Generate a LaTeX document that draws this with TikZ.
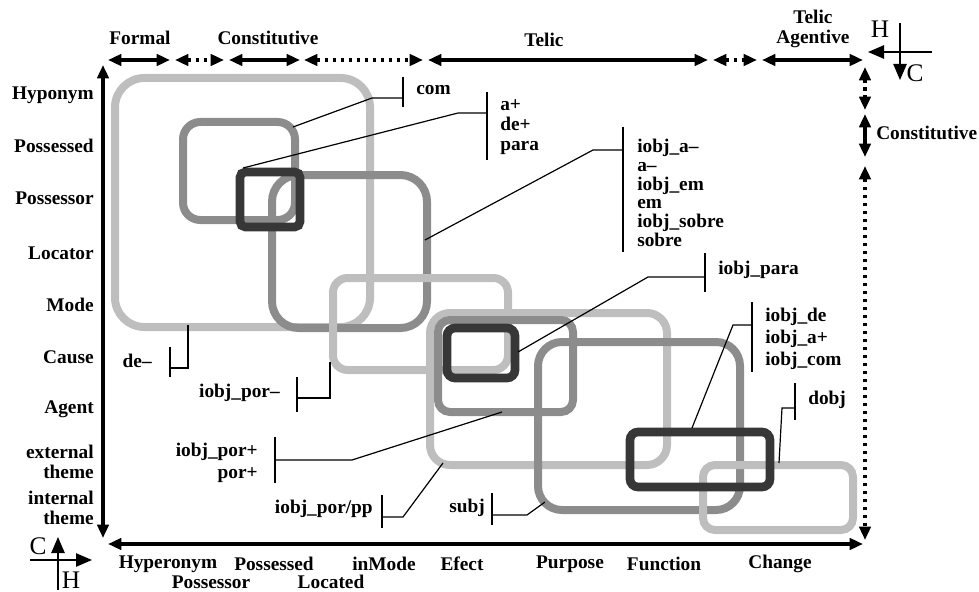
\documentclass[tikz,border=0pt]{standalone}
\usepackage{fontspec}
\setmainfont{Liberation Serif}
\definecolor{boxlight}{RGB}{190,190,190}
\definecolor{boxmid}{RGB}{140,140,140}
\definecolor{boxdark}{RGB}{55,55,55}
\usetikzlibrary{arrows.meta}

\begin{document}
\begin{tikzpicture}[x=0.75pt, y=-0.75pt,
  axis/.style={line width=3pt, {Triangle[length=10pt,width=8.5pt]}-{Triangle[length=10pt,width=8.5pt]}},
  dotaxis/.style={axis, dash pattern=on 2.5pt off 3.5pt},
  lightbox/.style={draw=boxlight, line width=6pt},
  midbox/.style={draw=boxmid, line width=6pt},
  darkbox/.style={draw=boxdark, line width=6.5pt},
  callout/.style={line width=0.9pt},
  cross/.style={line width=1.1pt, -{Triangle[length=12pt,width=10pt]}},
  lbl/.style={font=\fontsize{14.5}{16.5}\selectfont\bfseries, inner sep=0pt, align=left},
  letter/.style={font=\fontsize{19}{19}\selectfont, inner sep=0pt}
]
  \useasboundingbox (0,0) rectangle (979,592);

  % rounded boxes
  \draw[lightbox, rounded corners=22pt] (115,78) rectangle (370,327);
  \draw[midbox, rounded corners=13pt] (183,122) rectangle (295,220);
  \draw[midbox, rounded corners=20pt] (272,175) rectangle (427,328);
  \draw[lightbox, rounded corners=11pt] (333,278) rectangle (508,370);
  \draw[darkbox, rounded corners=4pt] (240,172) rectangle (300,227);
  \draw[lightbox, rounded corners=15pt] (430,313) rectangle (667,465);
  \draw[midbox, rounded corners=9pt] (438,320) rectangle (573,412);
  \draw[midbox, rounded corners=18pt] (538,342) rectangle (740,510);
  \draw[darkbox, rounded corners=6pt] (447,328) rectangle (515,378);
  \draw[lightbox, rounded corners=9pt] (703,465) rectangle (853,530);
  \draw[darkbox, rounded corners=6pt] (630,432) rectangle (770,487);

  % axes
  \draw[axis] (108,60) -- (170,60);
  \draw[dotaxis] (175,60) -- (224,60);
  \draw[axis] (229,60) -- (300,60);
  \draw[dotaxis] (304,60) -- (423,60);
  \draw[axis] (428,60) -- (708,60);
  \draw[dotaxis] (713,60) -- (757,60);
  \draw[axis] (762,60) -- (863,60);
  \draw[dotaxis] (865,67) -- (865,110);
  \draw[axis] (865,114) -- (865,157);
  \draw[dotaxis] (865,166) -- (865,540);
  \draw[axis] (103,65) -- (103,538);
  \draw[axis] (108,544) -- (863,544);

  % corner crosses
  \draw[cross] (932,52) -- (868,52);
  \draw[cross] (900,23) -- (900,80);
  \node[letter] (hTop) at (880,29) {H};
  \node[letter] (cTop) at (915,73) {C};
  \draw[cross] (58,590) -- (58,537);
  \draw[cross] (30,560) -- (92,560);
  \node[letter] (cBot) at (38,546) {C};
  \node[letter] (hBot) at (71,580) {H};

  % top and right labels
  \node[lbl] (tFormal) at (140,38) {Formal};
  \node[lbl] (tConst) at (268,38) {Constitutive};
  \node[lbl] (tTelic) at (544,40) {Telic};
  \node[lbl, align=center, font=\fontsize{14.5}{15}\selectfont\bfseries] (tAgent) at (813,29) {Telic\\Agentive};
  \node[lbl, anchor=west] (rConst) at (876,133) {Constitutive};

  % left labels
  \node[lbl, anchor=east] (lHypo) at (94,95) {Hyponym};
  \node[lbl, anchor=east] (lPossd) at (94,146) {Possessed};
  \node[lbl, anchor=east] (lPossr) at (94,198) {Possessor};
  \node[lbl, anchor=east] (lLoc) at (94,253) {Locator};
  \node[lbl, anchor=east] (lMode) at (94,305) {Mode};
  \node[lbl, anchor=east] (lCause) at (94,357) {Cause};
  \node[lbl, anchor=east] (lAgent) at (94,409) {Agent};
  \node[lbl, anchor=east, align=right, font=\fontsize{14.5}{15}\selectfont\bfseries] (lExt) at (94,462) {external\\theme};
  \node[lbl, anchor=east, align=right, font=\fontsize{14.5}{15}\selectfont\bfseries] (lInt) at (94,508) {internal\\theme};

  % bottom labels
  \node[lbl] (bHyper) at (168,564) {Hyperonym};
  \node[lbl] (bPossd) at (274,564) {Possessed};
  \node[lbl] (bPossr) at (211,582) {Possessor};
  \node[lbl] (bLoc) at (331,582) {Located};
  \node[lbl] (bMode) at (384,564) {inMode};
  \node[lbl] (bEfect) at (462,564) {Efect};
  \node[lbl] (bPurp) at (570,564) {Purpose};
  \node[lbl] (bFunc) at (664,564) {Function};
  \node[lbl] (bChange) at (780,564) {Change};

  % callout labels
  \node[lbl, anchor=west] (cCom) at (416,90) {com};
  \node[lbl, anchor=west, font=\fontsize{14.5}{15}\selectfont\bfseries] (cADe) at (500,127) {a+\\de+\\para};
  \node[lbl, anchor=west, font=\fontsize{14.5}{14}\selectfont\bfseries] (cIobjA) at (637,193) {iobj\_a--\\a--\\iobj\_em\\em\\iobj\_sobre\\sobre};
  \node[lbl, anchor=west] (cIPara) at (718,270) {iobj\_para};
  \node[lbl, anchor=west] (cIDe) at (765,339) {iobj\_de\\iobj\_a+\\iobj\_com};
  \node[lbl, anchor=west] (cDobj) at (808,400) {dobj};
  \node[lbl, anchor=east, align=right] (cPorP) at (258,463) {iobj\_por+\\por+};
  \node[lbl, anchor=east] (cPorPP) at (373,509) {iobj\_por/pp};
  \node[lbl, anchor=east] (cSubj) at (485,508) {subj};
  \node[lbl, anchor=east] (cDe) at (152,361) {de--};
  \node[lbl, anchor=east] (cPorM) at (280,393) {iobj\_por--};

  % bracket ends and box targets
  \coordinate (bCom) at (403,98);     \coordinate (tCom) at (293,127);
  \coordinate (bADe) at (487,113);    \coordinate (tADe) at (243,168);
  \coordinate (bIobjA) at (623,150);  \coordinate (tIobjA) at (425,240);
  \coordinate (bIPara) at (705,277);  \coordinate (tIPara) at (518,352);
  \coordinate (bIDe) at (752,325);    \coordinate (tIDe) at (692,428);
  \coordinate (bDobj) at (795,408);   \coordinate (tDobj) at (779,463);
  \coordinate (bPorP) at (275,460);   \coordinate (tPorP) at (502,412);
  \coordinate (bPorPP) at (382,517);  \coordinate (tPorPP) at (443,463);
  \coordinate (bSubj) at (492,515);   \coordinate (tSubj) at (545,502);
  \coordinate (bDe) at (170,368);     \coordinate (tDe) at (188,325);
  \coordinate (bPorM) at (297,398);   \coordinate (tPorM) at (330,362);

  % brackets
  \draw[callout] (403,77) -- (403,107);
  \draw[callout] (487,92) -- (487,160);
  \draw[callout] (623,127) -- (623,252);
  \draw[callout] (705,253) -- (705,292);
  \draw[callout] (752,302) -- (752,372);
  \draw[callout] (795,383) -- (795,420);
  \draw[callout] (275,437) -- (275,483);
  \draw[callout] (382,495) -- (382,528);
  \draw[callout] (492,493) -- (492,525);
  \draw[callout] (170,347) -- (170,377);
  \draw[callout] (297,377) -- (297,412);

  % leaders
  \draw[callout] (bCom) -- ++(-31,0) -- (tCom);
  \draw[callout] (bADe) -- ++(-29,0) -- (tADe);
  \draw[callout] (bIobjA) -- ++(-30,0) -- (tIobjA);
  \draw[callout] (bIPara) -- ++(-57,0) -- (tIPara);
  \draw[callout] (bIDe) -- ++(-19,0) -- (tIDe);
  \draw[callout] (bDobj) -- ++(-13,0) -- (tDobj);
  \draw[callout] (bPorP) -- ++(77,0) -- (tPorP);
  \draw[callout] (bPorPP) -- ++(21,0) -- (tPorPP);
  \draw[callout] (bSubj) -- ++(35,0) -- (tSubj);
  \draw[callout] (bDe) -- ++(18,0) -- (tDe);
  \draw[callout] (bPorM) -- ++(33,0) -- (tPorM);
\end{tikzpicture}
\end{document}
